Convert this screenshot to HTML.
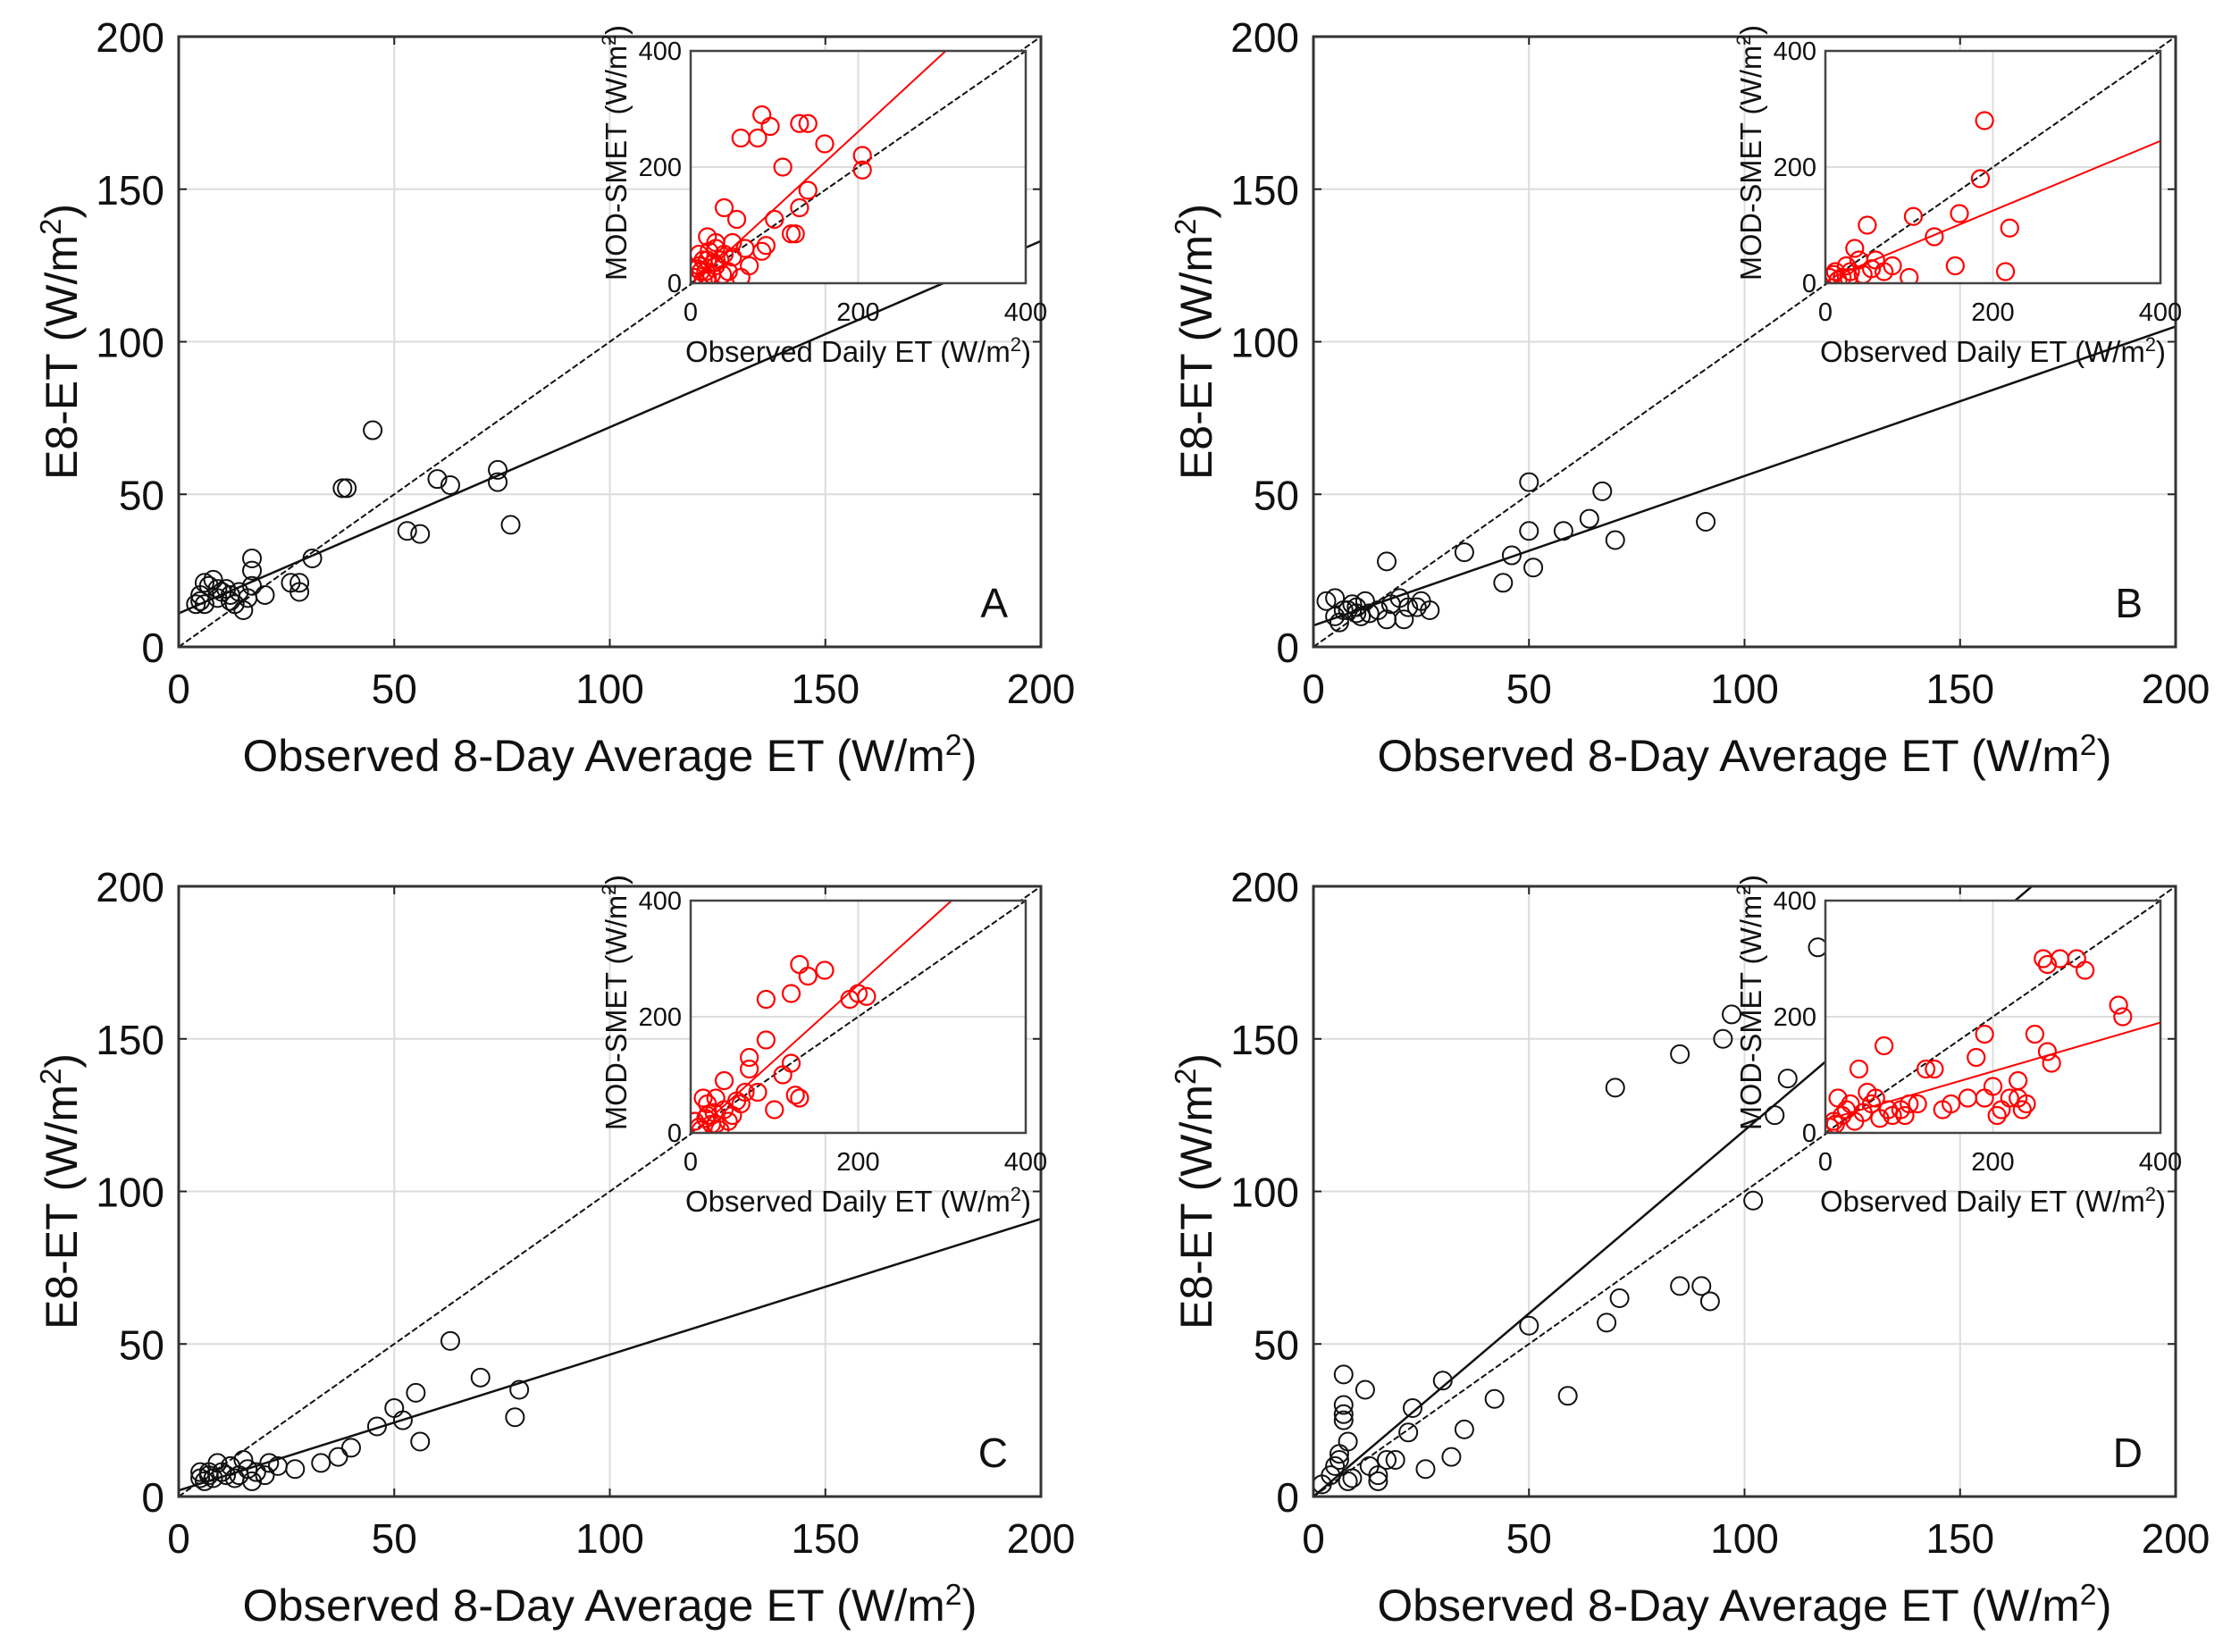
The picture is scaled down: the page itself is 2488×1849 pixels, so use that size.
<!DOCTYPE html>
<html><head><meta charset="utf-8"><style>
html,body{margin:0;padding:0;background:#fff;}
svg{display:block;font-family:"Liberation Sans",sans-serif;}
</style></head><body>
<svg id="fig" width="2488" height="1849" viewBox="0 0 2488 1849" xmlns="http://www.w3.org/2000/svg"></svg>
<script>
// ---- data ----
const aObsX=[5,6,5,7,8,6,10,9,12,11,13,15,14,17,17,17,16,20,26,28,28,31,38,39,45,53,56,60,63,74,74,77,4,9,12];
const aEstY=[15,14,17,20,22,21,18,16,15,19,14,12,18,20,25,29,16,17,21,21,18,29,52,52,71,38,37,55,53,58,54,40,14,19,17];
const aInX=[20,30,10,60,80,85,95,110,130,140,160,205,205,140,130,100,120,125,90,85,40,55,20,30,50,65,35,45,25,10,15,60,5,40,70,20,30,12,50,8,18,28,38,22,15];
const aInY=[10,30,50,250,250,290,270,200,275,275,240,220,195,160,130,110,85,85,65,55,130,110,80,70,70,60,40,20,15,30,5,10,10,50,30,40,60,20,45,25,20,35,15,55,40];
const bObsX=[3,5,5,6,8,9,10,11,12,13,15,17,17,18,20,21,22,24,25,27,35,44,46,50,50,51,58,64,67,70,91,10,7];
const bEstY=[15,16,10,8,12,14,13,10,15,11,12,9,28,14,16,9,13,13,15,12,31,21,30,54,38,26,38,42,51,35,41,11,12];
const bInX=[20,30,40,50,35,60,25,10,70,100,105,130,155,160,185,190,215,220,45,15,5,12,28,55,80];
const bInY=[10,20,40,100,60,40,30,15,20,10,115,80,30,120,180,280,20,95,15,5,10,20,10,25,30];
const cObsX=[5,6,7,8,9,10,11,12,13,14,15,16,17,18,20,21,23,27,33,37,40,46,50,52,55,56,63,70,78,79,5,7];
const cEstY=[8,5,7,6,11,8,7,10,6,7,12,9,5,8,7,11,10,9,11,13,16,23,29,25,34,18,51,39,26,35,6,8];
const cInX=[10,20,30,40,60,50,70,70,90,90,120,130,140,160,190,200,210,120,110,125,130,80,100,25,15,45,35,5,55,65,20,30,40,12,18,28];
const cInY=[10,30,60,90,50,30,110,130,160,230,240,290,270,280,230,240,235,120,100,65,60,70,40,15,60,20,5,20,55,70,50,15,40,5,25,35];
const dObsX=[2,4,5,6,7,7,7,7,8,6,8,9,12,13,15,15,17,19,22,23,26,30,32,35,42,50,59,68,71,70,85,85,90,92,95,102,107,110,117,97];
const dEstY=[4,7,10,14,30,40,27,25,18,12,5,6,35,10,7,5,12,12,21,29,9,38,13,22,32,56,33,57,65,134,145,69,69,64,150,97,125,137,180,158];
const dInX=[20,30,40,50,60,70,80,90,110,120,130,140,150,170,180,190,190,200,210,220,230,240,250,265,270,260,265,280,300,310,350,355,10,15,25,35,45,55,65,75,95,100,205,235,230,5,12];
const dInY=[30,50,110,70,60,150,30,40,50,110,110,40,50,60,130,170,60,80,40,60,60,50,170,140,120,300,290,300,300,280,220,200,20,60,40,20,35,50,25,40,30,50,30,40,90,10,15];
const mainTicks=[0,50,100,150,200];
const insetTicks=[0,200,400];
const panelLetters=["A","B","C","D"];
const fitSlope=[0.61,0.49,0.445,1.2];
const fitIntercept=[11,7,2,0];
const inFitSlope=[1.33,0.6,1.3,0.42];
const inFitIntercept=[-5,5,-5,22];

const NS="http://www.w3.org/2000/svg";
const svg=document.getElementById('fig');
function el(tag,attrs,parent){const e=document.createElementNS(NS,tag);for(const k in attrs)e.setAttribute(k,attrs[k]);(parent||svg).appendChild(e);return e;}

const panels=[
 {x0:200,y0:41,ox:aObsX,oy:aEstY,ix:aInX,iy:aInY},
 {x0:1470,y0:41,ox:bObsX,oy:bEstY,ix:bInX,iy:bInY},
 {x0:200,y0:992,ox:cObsX,oy:cEstY,ix:cInX,iy:cInY},
 {x0:1470,y0:992,ox:dObsX,oy:dEstY,ix:dInX,iy:dInY}
];
const W=965,H=683;
panels.forEach((p,pi)=>{
  const g=el('g',{});
  
  
  const sx=v=>p.x0+v/200*W, sy=v=>p.y0+H-v/200*H;
  mainTicks.forEach(t=>{
    if(t>0&&t<200){
      const gl=el('line',{x1:sx(t),x2:sx(t),y1:p.y0,y2:p.y0+H,stroke:'#dcdcdc','stroke-width':2},g);
      
      const gh=el('line',{x1:p.x0,x2:p.x0+W,y1:sy(t),y2:sy(t),stroke:'#dcdcdc','stroke-width':2},g);
      
    }
    const tx=el('text',{x:sx(t),y:p.y0+H+63,'font-size':46,'text-anchor':'middle',fill:'#111'},g);
    tx.textContent=t;
    
    const ty=el('text',{x:p.x0-16,y:sy(t)+17,'font-size':46,'text-anchor':'end',fill:'#111'},g);
    ty.textContent=t;
    
    el('line',{x1:sx(t),x2:sx(t),y1:p.y0+H,y2:p.y0+H-9,stroke:'#222','stroke-width':2},g);
    el('line',{x1:sx(t),x2:sx(t),y1:p.y0,y2:p.y0+9,stroke:'#222','stroke-width':2},g);
    el('line',{x1:p.x0,x2:p.x0+9,y1:sy(t),y2:sy(t),stroke:'#222','stroke-width':2},g);
    el('line',{x1:p.x0+W,x2:p.x0+W-9,y1:sy(t),y2:sy(t),stroke:'#222','stroke-width':2},g);
  });
  const cid='clip'+pi;
  const cp=el('clipPath',{id:cid},g);
  el('rect',{x:p.x0,y:p.y0,width:W,height:H},cp);
  const pg=el('g',{'clip-path':'url(#'+cid+')'},g);
  const one=el('line',{x1:sx(0),y1:sy(0),x2:sx(200),y2:sy(200),stroke:'#111','stroke-width':2,'stroke-dasharray':'7 3'},pg);
  
  const fit=el('line',{x1:sx(0),y1:sy(fitIntercept[pi]),x2:sx(200),y2:sy(fitIntercept[pi]+200*fitSlope[pi]),stroke:'#111','stroke-width':2.5},pg);
  
  p.ox.forEach((v,i)=>{
    const c=el('circle',{cx:sx(v),cy:sy(p.oy[i]),r:10,fill:'none',stroke:'#111','stroke-width':2},pg);
    
    
  });
  const box=el('rect',{x:p.x0,y:p.y0,width:W,height:H,fill:'none',stroke:'#333','stroke-width':3},g);
  
  const lt=el('text',{x:p.x0+W-37,y:p.y0+H-33,'font-size':46,'text-anchor':'end',fill:'#111'},g);
  lt.textContent=panelLetters[pi];
  
  const xt=el('text',{x:p.x0+W/2,y:p.y0+H+139,'font-size':50,'text-anchor':'middle',fill:'#111',textLength:822,lengthAdjust:'spacingAndGlyphs'},g);
  xt.innerHTML='Observed 8-Day Average ET (W/m<tspan dy="-18" font-size="33">2</tspan><tspan dy="18">)</tspan>';
  
  const yt=el('text',{x:0,y:0,'font-size':50,'text-anchor':'middle',fill:'#111',transform:'translate('+(p.x0-114)+','+(p.y0+H/2)+') rotate(-90)'},g);
  yt.innerHTML='E8-ET (W/m<tspan dy="-18" font-size="33">2</tspan><tspan dy="18">)</tspan>';
  

  const ix0=p.x0+573, iy0=p.y0+16, IW=375, IH=260;
  const ig=el('g',{},g);
  
  const ux=v=>ix0+v/400*IW, uy=v=>iy0+IH-v/400*IH;
  el('rect',{x:ix0,y:iy0,width:IW,height:IH,fill:'#fff'},ig);
  insetTicks.forEach(t=>{
    if(t===200){
      el('line',{x1:ux(t),x2:ux(t),y1:iy0,y2:iy0+IH,stroke:'#dcdcdc','stroke-width':2},ig);
      el('line',{x1:ix0,x2:ix0+IW,y1:uy(t),y2:uy(t),stroke:'#dcdcdc','stroke-width':2},ig);
    }
    const a=el('text',{x:ux(t),y:iy0+IH+42,'font-size':29,'text-anchor':'middle',fill:'#111'},ig);
    a.textContent=t;
    
    const b=el('text',{x:ix0-10,y:uy(t)+10,'font-size':29,'text-anchor':'end',fill:'#111'},ig);
    b.textContent=t;
    
  });
  const icid='iclip'+pi;
  const icp=el('clipPath',{id:icid},ig);
  el('rect',{x:ix0,y:iy0,width:IW,height:IH},icp);
  const ipg=el('g',{'clip-path':'url(#'+icid+')'},ig);
  el('line',{x1:ux(0),y1:uy(0),x2:ux(400),y2:uy(400),stroke:'#111','stroke-width':2,'stroke-dasharray':'7 3'},ipg);
  p.ix.forEach((v,i)=>{
    const c=el('circle',{cx:ux(v),cy:uy(p.iy[i]),r:9.5,fill:'none',stroke:'#f00','stroke-width':2.2},ipg);
    
    
  });
  const rf=el('line',{x1:ux(10),y1:uy(inFitIntercept[pi]+10*inFitSlope[pi]),x2:ux(400),y2:uy(inFitIntercept[pi]+400*inFitSlope[pi]),stroke:'#f00','stroke-width':2},ipg);
  
  el('rect',{x:ix0,y:iy0,width:IW,height:IH,fill:'none',stroke:'#444','stroke-width':2.5},ig);
  const ixt=el('text',{x:ix0+IW/2,y:iy0+IH+88,'font-size':33,'text-anchor':'middle',fill:'#111',textLength:387,lengthAdjust:'spacingAndGlyphs'},ig);
  ixt.innerHTML='Observed Daily ET (W/m<tspan dy="-12" font-size="22">2</tspan><tspan dy="12">)</tspan>';
  
  const iyt=el('text',{x:0,y:0,'font-size':33,'text-anchor':'middle',fill:'#111',textLength:286,lengthAdjust:'spacingAndGlyphs',transform:'translate('+(ix0-72)+','+(iy0+IH/2-16)+') rotate(-90)'},ig);
  iyt.innerHTML='MOD-SMET (W/m<tspan dy="-12" font-size="22">2</tspan><tspan dy="12">)</tspan>';
  
});
</script>
</body></html>
